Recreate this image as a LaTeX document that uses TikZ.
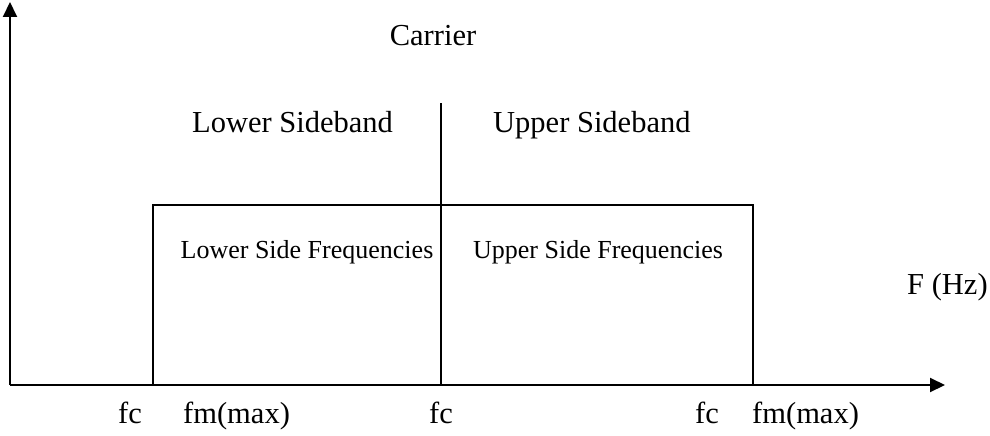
\documentclass[tikz,border=0pt]{standalone}
\usepackage{fontspec}
\setmainfont{Liberation Serif}
\usetikzlibrary{arrows.meta}
\begin{document}
\begin{tikzpicture}[x=1pt,y=-1pt,
  ln/.style={line width=2pt,black},
  axis/.style={ln,-{Triangle[length=15pt,width=14pt]}},
  big/.style={inner sep=0pt,font=\fontsize{30.5}{34}\selectfont},
  small/.style={inner sep=0pt,font=\fontsize{26}{30}\selectfont}]
\useasboundingbox (0,0) rectangle (990,436);
\coordinate (o) at (10,385);
\coordinate (ytip) at (10,2);
\coordinate (xtip) at (945,385);
\coordinate (bl) at (153,385);
\coordinate (tr) at (753,205);
\coordinate (ctop) at (441,103);
\coordinate (cbot) at (441,385);
\draw[ln] (bl) rectangle (tr);
\draw[ln] (ctop) -- (cbot);
\draw[axis] (o) -- (ytip);
\draw[axis] (o) -- (xtip);
\node[big,anchor=base] (carrier) at (433,46) {Carrier};
\node[big,anchor=base west] (lsb) at (192,132) {Lower Sideband};
\node[big,anchor=base west] (usb) at (493,132) {Upper Sideband};
\node[small,anchor=base] (lsf) at (307,258) {Lower Side Frequencies};
\node[small,anchor=base] (usf) at (598,258) {Upper Side Frequencies};
\node[big,anchor=base west] (fhz) at (907,294) {F (Hz)};
\node[big,anchor=base west] (fc1) at (118,423) {fc};
\node[big,anchor=base west] (fm1) at (183,423) {fm(max)};
\node[big,anchor=base] (fc2) at (441,423) {fc};
\node[big,anchor=base west] (fc3) at (695,423) {fc};
\node[big,anchor=base west] (fm2) at (752,423) {fm(max)};
\end{tikzpicture}
\end{document}
